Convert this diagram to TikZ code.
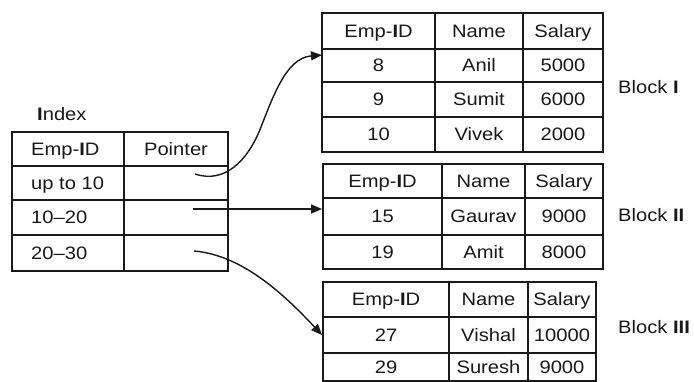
\documentclass[tikz,border=0pt]{standalone}
\usepackage{fontspec}
\setmainfont{Liberation Sans}[FakeStretch=1.12]
\usetikzlibrary{arrows.meta}
\tikzset{
  tab/.style={line width=1.5pt, draw=black!90},
  txt/.style={inner sep=0pt, text height=12.5pt, text depth=0pt, font=\fontsize{18}{20}\selectfont, text=black!90},
  conn/.style={line width=1.4pt, draw=black!90, -{Triangle[length=11pt,width=9pt]}},
}
\newcommand\bI{\textbf{I}}
\newcommand\mycell[6]{%
  \draw[tab] (#2,#3) rectangle (#4,#5);
  \node[txt] (#1) at ({(#2+#4)/2},{(#3+#5)/2}) {#6};}
\newcommand\mylcell[6]{%
  \draw[tab] (#2,#3) rectangle (#4,#5);
  \node[txt, anchor=west] (#1) at (31,{(#3+#5)/2}) {#6};}
\begin{document}
\begin{tikzpicture}[x=1pt,y=-1pt]
\clip (0,0) rectangle (694,381);
\fill[white] (0,0) rectangle (694,381);
% Index table
\node[txt, anchor=west] (idxlabel) at (37,114) {\bI ndex};
\mylcell{ih1}{12}{132}{124}{166}{Emp-\bI D}
\mycell{ih2}{124}{132}{228}{166}{Pointer}
\mylcell{ir1}{12}{166}{124}{200}{up to 10}
\mycell{ip1}{124}{166}{228}{200}{}
\mylcell{ir2}{12}{200}{124}{235}{10--20}
\mycell{ip2}{124}{200}{228}{235}{}
\mylcell{ir3}{12}{235}{124}{271}{20--30}
\mycell{ip3}{124}{235}{228}{271}{}
% Block I
\mycell{a11}{322}{13}{435}{49}{Emp-\bI D}
\mycell{a12}{435}{13}{523}{49}{Name}
\mycell{a13}{523}{13}{603}{49}{Salary}
\mycell{a21}{322}{49}{435}{82}{8}
\mycell{a22}{435}{49}{523}{82}{Anil}
\mycell{a23}{523}{49}{603}{82}{5000}
\mycell{a31}{322}{82}{435}{117}{9}
\mycell{a32}{435}{82}{523}{117}{Sumit}
\mycell{a33}{523}{82}{603}{117}{6000}
\mycell{a41}{322}{117}{435}{152}{10}
\mycell{a42}{435}{117}{523}{152}{Vivek}
\mycell{a43}{523}{117}{603}{152}{2000}
\node[txt, anchor=west] (blk1) at (618,87) {Block \bI};
% Block II
\mycell{b11}{323}{164}{442}{198}{Emp-\bI D}
\mycell{b12}{442}{164}{525}{198}{Name}
\mycell{b13}{525}{164}{603}{198}{Salary}
\mycell{b21}{323}{198}{442}{235}{15}
\mycell{b22}{442}{198}{525}{235}{Gaurav}
\mycell{b23}{525}{198}{603}{235}{9000}
\mycell{b31}{323}{235}{442}{269}{19}
\mycell{b32}{442}{235}{525}{269}{Amit}
\mycell{b33}{525}{235}{603}{269}{8000}
\node[txt, anchor=west] (blk2) at (618,215) {Block \bI\bI};
% Block III
\mycell{c11}{323}{282}{449}{317}{Emp-\bI D}
\mycell{c12}{449}{282}{528}{317}{Name}
\mycell{c13}{528}{282}{596}{317}{Salary}
\mycell{c21}{323}{317}{449}{353}{27}
\mycell{c22}{449}{317}{528}{353}{Vishal}
\mycell{c23}{528}{317}{596}{353}{10000}
\mycell{c31}{323}{353}{449}{381}{29}
\mycell{c32}{449}{353}{528}{381}{Suresh}
\mycell{c33}{528}{353}{596}{381}{9000}
\draw[tab] (323,353) -- (323,390) (449,353) -- (449,390) (528,353) -- (528,390) (596,353) -- (596,390);
\node[txt, anchor=west] (blk3) at (618,327) {Block \bI\bI\bI};
% connectors
\coordinate (s1) at (195,174);
\coordinate (s2) at (193,209);
\coordinate (s3) at (194,251);
\coordinate (t1) at (322,55);
\coordinate (t2) at (322,209);
\coordinate (t3) at (322,335);
\draw[conn] (s1) .. controls (225,184) and (247,160) .. (259,132) .. controls (272,100) and (285,58) .. (t1);
\draw[conn] (s2) -- (t2);
\draw[conn] (s3) .. controls (240,255) and (280,290) .. (t3);
\end{tikzpicture}
\end{document}
